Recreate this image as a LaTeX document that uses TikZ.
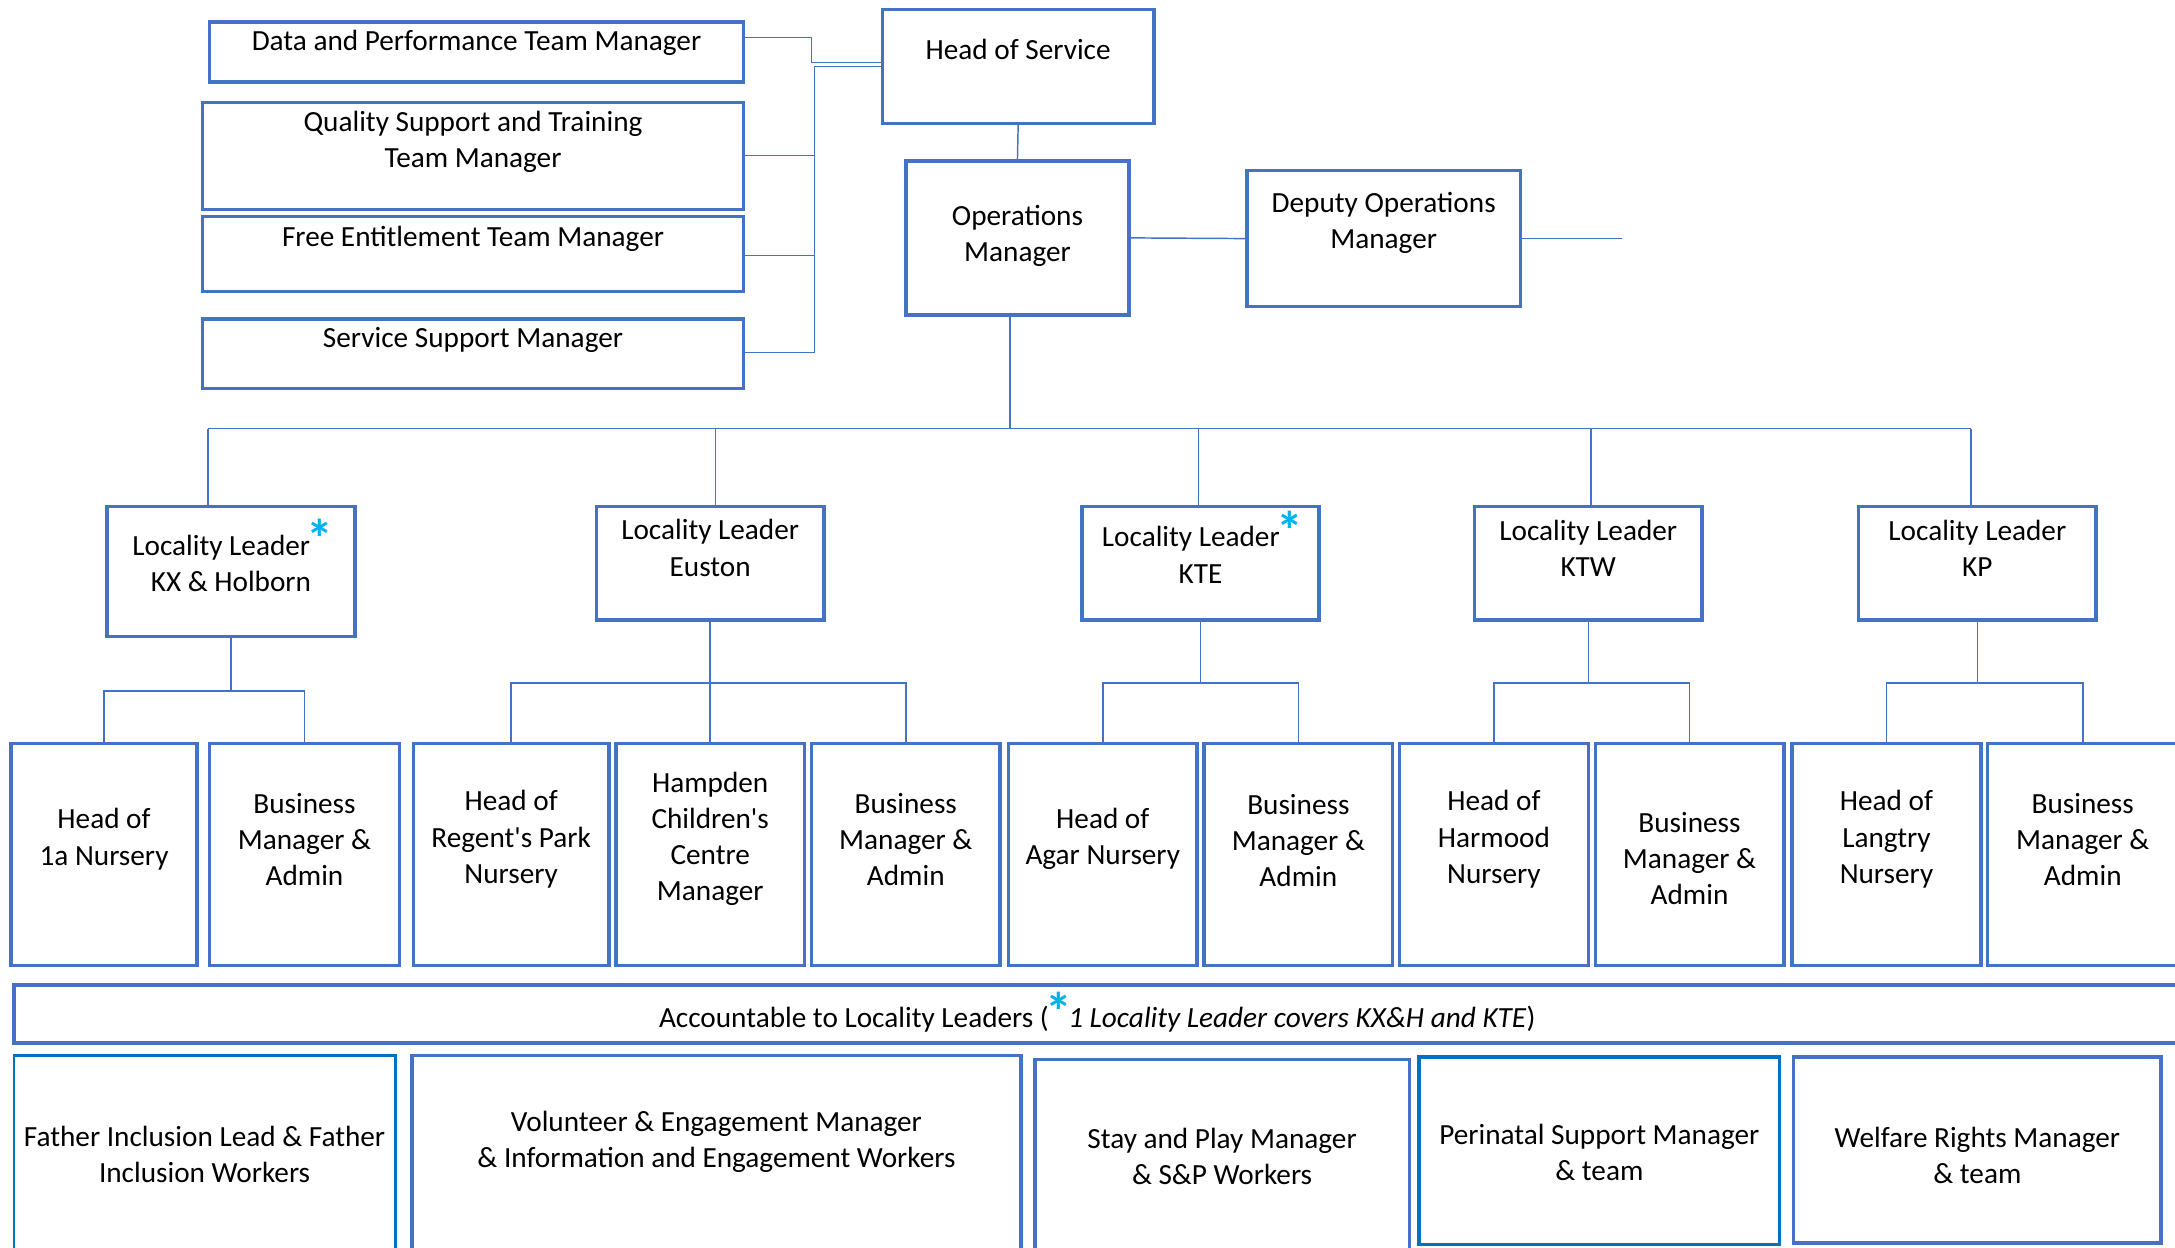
\documentclass[tikz,border=0pt]{standalone}
\usepackage{fontspec}
\setmainfont{Carlito}
\usepackage{xcolor}
\usetikzlibrary{fit,calc}
\definecolor{cajaazul}{RGB}{68,114,196}
\definecolor{cajaazulb}{RGB}{0,112,192}
\definecolor{estrellaazul}{RGB}{0,176,240}
\tikzset{
  caja/.style = {draw=cajaazul, line width=1.4pt, inner sep=0pt},
  texto/.style = {align=center, inner sep=0pt, font=\fontsize{12}{14.8}\selectfont},
  linea/.style = {draw=cajaazul, line width=0.6pt}
}
\newcommand{\estrella}{\kern-1.5pt\smash{\raisebox{-0.2ex}{\textcolor{estrellaazul}{\fontsize{22}{22}\selectfont\bfseries *}}}\kern-1.5pt}
\newcommand{\caja}[8][]{
  \node[caja,#1,fit={(#3,#4) (#5,#6)}] (#2) {};
  \node[texto] (#2-t) at ({(#3+#5)/2},#7+1) {#8};
}

\begin{document}
\begin{tikzpicture}[x=0.02cm,y=-0.02cm]
\useasboundingbox (0,0) rectangle (1568,899);
\clip (0,0) rectangle (1568,899);
\caja{dpm}{151}{16}{536}{59}{30}{Data and Performance Team Manager}
\caja{qst}{146}{74}{536}{151}{101}{Quality Support and Training\\Team Manager}
\caja{fet}{146}{156}{536}{210}{171}{Free Entitlement Team Manager}
\caja{ssm}{146}{230}{536}{280}{244}{Service Support Manager}
\caja{hos}{636}{7}{832}{89}{35}{Head of Service}
\caja{ops}{653}{116}{814}{227}{169}{Operations\\Manager}
\caja{dom}{899}{123}{1096}{221}{160}{Deputy Operations\\Manager}
\coordinate (domfin) at (1169,172);
\draw[linea] (dpm.east |- 0,27) -| (585,45) -- (hos.west |- 0,45);
\draw[linea] (hos.west |- 0,48) -- (587,48) |- (ssm.east |- 0,254);
\foreach \n/\yy in {qst/112, fet/184}
  \draw[linea] (\n.east |- 0,\yy) -- (587,\yy);
\draw[linea] (hos.south) -- (ops.north);
\draw[linea] (ops.east) -- (dom.west);
\draw[linea] (dom.east) -- (domfin);

\caja{ll1}{77}{365}{256}{459}{405}{Locality Leader\estrella\\KX \& Holborn}
\caja{ll2}{430}{365}{594}{447}{394}{Locality Leader\\Euston}
\caja{ll3}{780}{365}{951}{447}{399}{Locality Leader\estrella\\KTE}
\caja{ll4}{1063}{365}{1227}{447}{394}{Locality Leader\\KTW}
\caja{ll5}{1340}{365}{1511}{447}{394}{Locality Leader\\KP}
\coordinate (busL) at (150,309);
\coordinate (busR) at (1421,309);
\draw[linea] (ops.south -| 728,0) -- (busL -| 728,0);
\draw[linea] (busL) -- (busR);
\foreach \n/\xx in {ll1/150, ll2/516, ll3/864, ll4/1147, ll5/1421}
  \draw[linea] (busL -| \xx,0) -- (\n.north -| \xx,0);

\foreach \nm/\xa/\xb/\ty/\tx in {
  j1/8/142/604/{Head of\\1a Nursery},
  j2/151/288/604/{Business\\Manager \&\\Admin},
  j3/298/439/604/{Head of\\Regent\textquotesingle s Park\\Nursery},
  j4/444/580/604/{Hampden\\Children\textquotesingle s\\Centre\\Manager},
  j5/585/721/604/{Business\\Manager \&\\Admin},
  j6/727/863/604/{Head of\\Agar Nursery},
  j7/868/1004/605/{Business\\Manager \&\\Admin},
  j8/1009/1145/604/{Head of\\Harmood\\Nursery},
  j9/1150/1286/618/{Business\\Manager \&\\Admin},
  j10/1292/1428/604/{Head of\\Langtry\\Nursery},
  j11/1433/1570/604/{Business\\Manager \&\\Admin}}{
  \caja{\nm}{\xa}{536}{\xb}{696}{\ty}{\tx}
}
\foreach \p/\c/\d in {ll1/j1/38, ll1/j2/38, ll2/j3/44, ll2/j4/44, ll2/j5/44,
  ll3/j6/44, ll3/j7/44, ll4/j8/44, ll4/j9/44, ll5/j10/44, ll5/j11/44}
  \draw[linea] (\p.south) -- ++(0,\d) -| (\c.north);

\caja{acc}{10}{710}{1572}{752}{734}{Accountable to Locality Leaders (\estrella\textit{1 Locality Leader covers KX\&H and KTE})}
\caja[draw=cajaazulb, line width=1pt]{fil}{10}{761}{285}{905}{831}{Father Inclusion Lead \& Father\\Inclusion Workers}
\caja{vem}{297}{761}{736}{905}{822}{Volunteer \& Engagement Manager\\\& Information and Engagement Workers}
\caja{spm}{746}{764}{1016}{905}{833}{Stay and Play Manager\\\& S\&P Workers}
\caja[draw=cajaazulb]{psm}{1023}{762}{1283}{897}{830}{Perinatal Support Manager\\\& team}
\caja{wrm}{1293}{762}{1558}{896}{832}{Welfare Rights Manager\\\& team}
\end{tikzpicture}
\end{document}
